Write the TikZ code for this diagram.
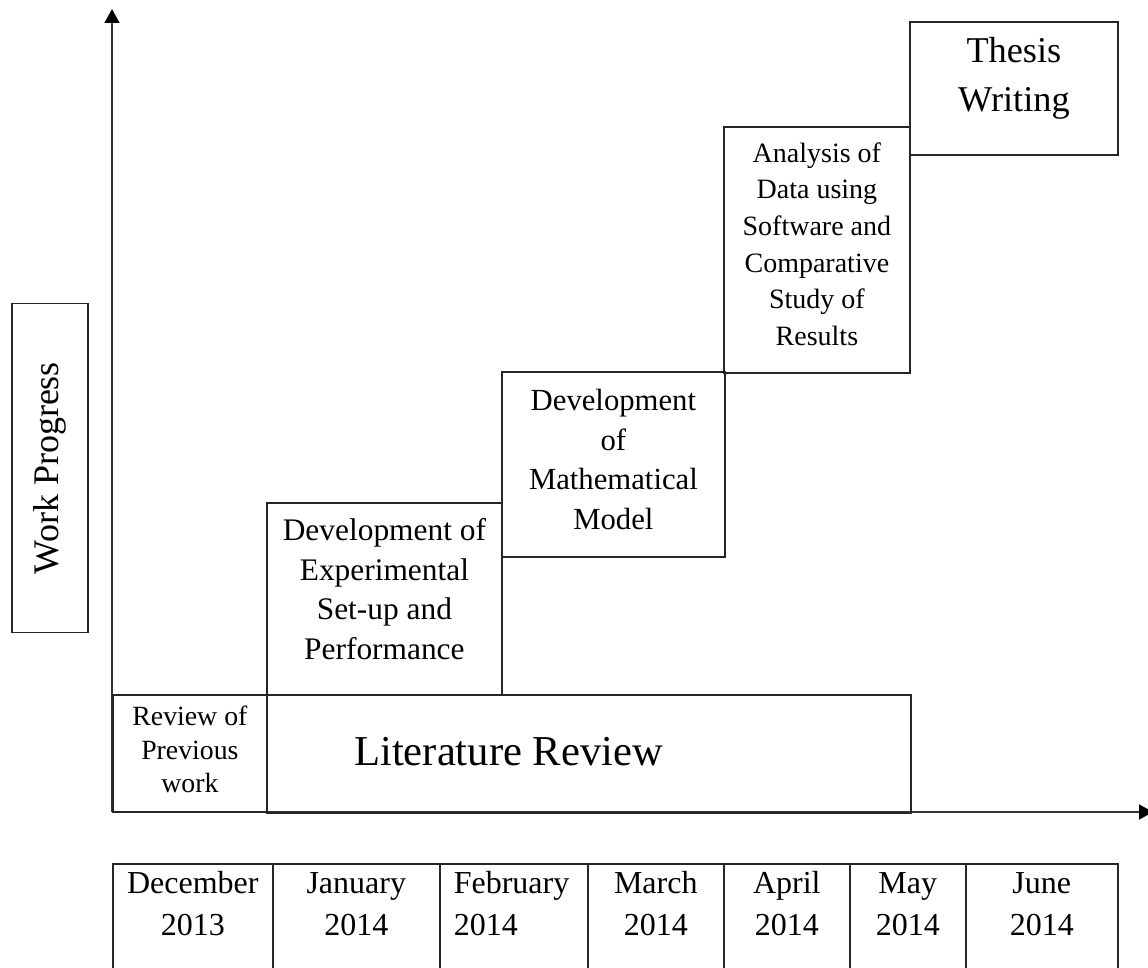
\documentclass[tikz,border=0pt]{standalone}
\usepackage{fontspec}
\setmainfont{Liberation Serif}
\usetikzlibrary{arrows.meta}
\newcommand{\monthtext}[2]{\parbox[t][110pt][t]{#1}{\centering\strut #2}}
\newcommand{\lift}[1]{\rule[-#1]{0pt}{0pt}}

\begin{document}
\begin{tikzpicture}[x=1pt, y=-1pt]
            % Define styles
            \tikzstyle{stage} = [rectangle, draw=black!85, line width=1.8pt, anchor=north west, align=center, inner sep=4pt, font=\fontsize{31.4}{39.5}\selectfont]
            \tikzstyle{month} = [rectangle, draw=black!85, line width=1.6pt, anchor=north west, inner xsep=4pt, inner ysep=0pt, font=\fontsize{32}{42}\selectfont]
            \tikzstyle{axisline} = [line width=1.8pt, black!80, -{Triangle[length=14pt, width=15pt, fill=black, color=black]}]

            \useasboundingbox (0,0) rectangle (1148,968);
            \clip (0,0) rectangle (1148,968);

            % Axes
            \coordinate (origin) at (112,812);
            \coordinate (ytop) at (112,9);
            \coordinate (xend) at (1153,812);
            \draw [axisline] (origin) -- (ytop);
            \draw [axisline] (origin) -- (xend);

            % Y-axis caption
            \node (work) [stage, anchor=center, rotate=90, minimum width=329pt, minimum height=76pt, font=\fontsize{36}{40}\selectfont] at (50,468) {Work Progress};

            % Bottom row - review
            \node (review) [stage, minimum width=154pt, minimum height=117pt, font=\fontsize{27.8}{33.5}\selectfont] at (112,694) {Review of\\Previous\\work\lift{8pt}};
            \node (lit) [stage, minimum width=644pt, minimum height=118pt] at (266,694) {};
            \node (littext) [anchor=base west, inner sep=0pt, font=\fontsize{42.6}{50}\selectfont] at (354,765) {Literature Review};

            % Stages - stepping up to the right
            \node (exp) [stage, minimum width=235pt, minimum height=192pt] at (266,502) {Development of\\Experimental\\Set-up and\\Performance\lift{20pt}};
            \node (math) [stage, minimum width=223pt, minimum height=185pt, font=\fontsize{30.7}{39.7}\selectfont] at (501,371) {Development\\of\\Mathematical\\Model\lift{10pt}};
            \node (analysis) [stage, minimum width=186pt, minimum height=246pt, font=\fontsize{28}{36.6}\selectfont] at (723,126) {Analysis of\\Data using\\Software and\\Comparative\\Study of\\Results\lift{12pt}};
            \node (thesis) [stage, minimum width=208pt, minimum height=133pt, font=\fontsize{36.3}{49}\selectfont] at (909,21) {Thesis\\Writing\lift{27pt}};

            % Time line below the axis
            \node (dec) [month, minimum width=160pt] at (112,863) {\monthtext{150pt}{December\\2013}};
            \node (jan) [month, minimum width=167pt] at (272,863) {\monthtext{157pt}{January\\2014}};
            \node (feb) [month, minimum width=148pt, inner xsep=13pt] at (439,863) {\parbox[t][110pt][t]{120pt}{\raggedright\strut February\\2014}};
            \node (mar) [month, minimum width=136pt] at (587,863) {\monthtext{126pt}{March\\2014}};
            \node (apr) [month, minimum width=126pt] at (723,863) {\monthtext{116pt}{April\\2014}};
            \node (may) [month, minimum width=116pt] at (849,863) {\monthtext{106pt}{May\\2014}};
            \node (jun) [month, minimum width=152pt] at (965,863) {\monthtext{142pt}{June\\2014}};
        \end{tikzpicture}
\end{document}
